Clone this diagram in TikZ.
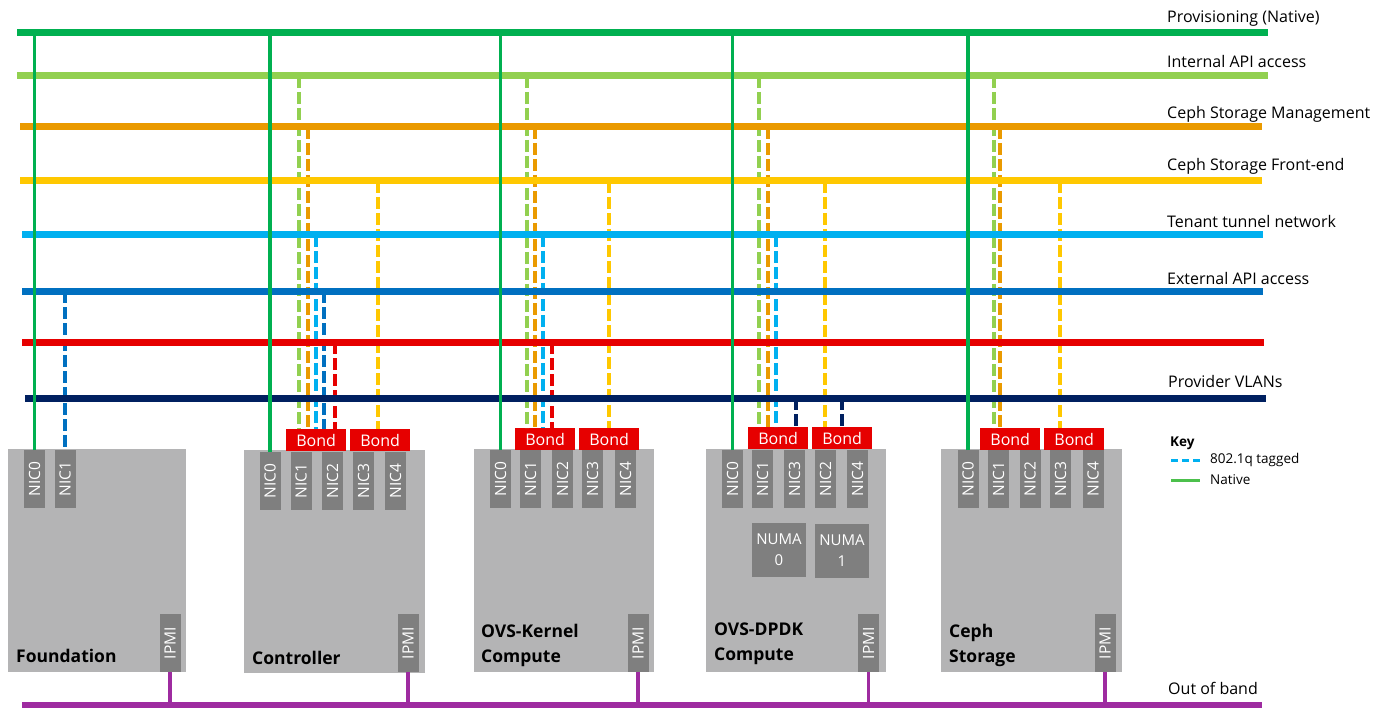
\documentclass[tikz,border=0pt]{standalone}
\usepackage{fontspec}
\setmainfont{Open Sans}
\usetikzlibrary{positioning}

\definecolor{provc}{HTML}{00B050}
\definecolor{intc}{HTML}{92D050}
\definecolor{mgmtc}{HTML}{EA9A00}
\definecolor{frontc}{HTML}{FFC800}
\definecolor{tenc}{HTML}{00B0F0}
\definecolor{extc}{HTML}{0070C0}
\definecolor{vlanred}{HTML}{E60000}
\definecolor{provvlan}{HTML}{002060}
\definecolor{oobc}{HTML}{9E2BA0}
\definecolor{srvgray}{HTML}{B4B4B5}
\definecolor{nicgray}{HTML}{7F7F7F}
\definecolor{keygreen}{HTML}{4CC04C}

\begin{document}
\begin{tikzpicture}[
        x=1pt, y=-1pt,
        bus/.style={line width=7pt},
        tap/.style={line width=3.5pt, dash pattern=on 12pt off 4pt},
        native/.style={line width=3.5pt, provc},
        ipmiline/.style={line width=3.5pt, oobc},
        server/.style={fill=srvgray, inner sep=0pt, anchor=north west, minimum height=223pt},
        nic/.style={fill=nicgray, text=white, minimum width=21pt, minimum height=58pt,
            inner sep=0pt, anchor=north, font=\fontsize{15.5}{15.5}\selectfont},
        bond/.style={fill=vlanred, text=white, minimum width=60pt, minimum height=22pt,
            inner sep=0pt, anchor=north west, font=\fontsize{16}{16}\selectfont},
        numa/.style={fill=nicgray, text=white, minimum width=54pt, minimum height=54pt,
            inner sep=0pt, align=center, font=\fontsize{15}{21}\selectfont},
        netlabel/.style={anchor=west, inner sep=0pt, font=\fontsize{16}{16}\selectfont},
        srvlabel/.style={anchor=base west, inner sep=0pt, align=left,
            font=\bfseries\fontsize{17.5}{25}\selectfont},
        keylabel/.style={anchor=west, inner sep=0pt, font=\fontsize{13.5}{13.5}\selectfont},
    ]
    \useasboundingbox (0,0) rectangle (1382,714);

    % servers
    \node[server, minimum width=178pt] (fnd) at (8,449) {};
    \node[server, minimum width=181pt] (ctl) at (244,450) {};
    \node[server, minimum width=180pt] (krn) at (474,449) {};
    \node[server, minimum width=180pt] (dpdk) at (706,449) {};
    \node[server, minimum width=181pt] (ceph) at (941,449) {};

    \node[srvlabel] (fndlbl) at (16,662) {Foundation};
    \node[srvlabel] (ctllbl) at (252,664) {Controller};
    \node[srvlabel] (krnlbl) at (481,662) {OVS-Kernel\\Compute};
    \node[srvlabel] (dpdklbl) at (714,660) {OVS-DPDK\\Compute};
    \node[srvlabel] (cephlbl) at (949,662) {Ceph\\Storage};

    % NICs
    \foreach \x/\n in {34.5/0, 65/1}
        \node[nic] (fn\n) at (\x,450) {\rotatebox{90}{NIC\n}};
    \foreach \x/\n in {270/0, 301/1, 332.5/2, 363.5/3, 395.5/4}
        \node[nic] (cn\n) at (\x,452) {\rotatebox{90}{NIC\n}};
    \foreach \x/\n in {500.5/0, 530.5/1, 562.5/2, 592.5/3, 625.5/4}
        \node[nic] (kn\n) at (\x,450) {\rotatebox{90}{NIC\n}};
    \foreach \x/\n in {732.5/0, 762.5/1, 794.5/3, 825.5/2, 857.5/4}
        \node[nic] (dn\n) at (\x,450) {\rotatebox{90}{NIC\n}};
    \foreach \x/\n in {968/0, 998.5/1, 1030/2, 1060.5/3, 1093/4}
        \node[nic] (sn\n) at (\x,450) {\rotatebox{90}{NIC\n}};

    \foreach \x/\n in {170/f, 408/c, 638/k, 868.5/d, 1105/s}
        \node[nic] (\n ipmi) at (\x,614) {\rotatebox{90}{IPMI}};

    \node[numa] (numa0) at (779,550) {NUMA\\0};
    \node[numa] (numa1) at (842,550.5) {NUMA\\1};

    % bonds
    \node[bond] (cb1) at (286,429) {Bond};
    \node[bond] (cb2) at (350,429) {Bond};
    \node[bond] (kb1) at (515,428) {Bond};
    \node[bond] (kb2) at (579,428) {Bond};
    \node[bond] (db1) at (748,427) {Bond};
    \node[bond] (db2) at (812,427) {Bond};
    \node[bond] (sb1) at (980,428) {Bond};
    \node[bond] (sb2) at (1044,428) {Bond};

    % networks
    \foreach \n/\c/\l/\r/\y in {provL/provc/17/1268/33, intL/intc/17/1268/76,
            mgmtL/mgmtc/20/1262/127, frontL/frontc/20/1262/181,
            tenL/tenc/22/1263/235, extL/extc/22/1263/291,
            redL/vlanred/22/1264/342, vlanL/provvlan/25/1266/398}
        \coordinate (\n) at (\l,\y);

    \foreach \x/\b/\c/\e in {
            65/extL/extc/fn1,
            299/intL/intc/cb1, 308/mgmtL/mgmtc/cb1, 316/tenL/tenc/cb1,
            324/extL/extc/cb1, 335/redL/vlanred/cb1, 378/frontL/frontc/cb2,
            527/intL/intc/kb1, 535/mgmtL/mgmtc/kb1, 543/tenL/tenc/kb1,
            552/redL/vlanred/kb1, 609/frontL/frontc/kb2,
            759/intL/intc/db1, 768/mgmtL/mgmtc/db1, 776/tenL/tenc/db1,
            796/vlanL/provvlan/db1, 825/frontL/frontc/db2, 842/vlanL/provvlan/db2,
            994/intL/intc/sb1, 1000/mgmtL/mgmtc/sb1, 1060/frontL/frontc/sb2}
        \draw[tap, \c] (\x,0 |- \b) -- (\x,0 |- \e.north);

    \foreach \n/\c/\r in {provL/provc/1268, intL/intc/1268, mgmtL/mgmtc/1262,
            frontL/frontc/1262, tenL/tenc/1263, extL/extc/1263,
            redL/vlanred/1264, vlanL/provvlan/1266}
        \draw[bus, \c] (\n) -- (\r,0 |- \n);

    \coordinate (oobL) at (22,705);
    \coordinate (oobR) at (1262,705);
    \draw[line width=5.5pt, oobc] (oobL) -- (oobR);

    \foreach \n in {fn0, cn0, kn0, dn0, sn0}
        \draw[native] (\n.north) -- (\n.north |- provL);
    \foreach \n in {f, c, k, d, s}
        \draw[ipmiline] (\n ipmi.south) -- (\n ipmi.south |- oobL);

    \node[netlabel] (provlbl) at (1167,19) {Provisioning (Native)};
    \node[netlabel] (intlbl) at (1167,62) {Internal API access};
    \node[netlabel] (mgmtlbl) at (1167,114) {Ceph Storage Management};
    \node[netlabel] (frontlbl) at (1167,166) {Ceph Storage Front-end};
    \node[netlabel] (tenlbl) at (1167,222) {Tenant tunnel network};
    \node[netlabel] (extlbl) at (1167,278) {External API access};
    \node[netlabel] (vlanlbl) at (1168,381) {Provider VLANs};
    \node[netlabel] (ooblbl) at (1168,688) {Out of band};

    % key
    \node[anchor=base west, inner sep=0pt, font=\bfseries\fontsize{13.5}{13.5}\selectfont] (key) at (1170,446) {Key};
    \node[keylabel] (tagged) at (1210,460) {802.1q tagged};
    \node[keylabel] (native) at (1210,480) {Native};
    \draw[line width=3pt, tenc, dash pattern=on 7pt off 4pt] ([xshift=-39pt]tagged.west) -- ([xshift=-10pt]tagged.west);
    \draw[line width=3pt, keygreen] ([xshift=-39pt]native.west) -- ([xshift=-10pt]native.west);
\end{tikzpicture}
\end{document}
